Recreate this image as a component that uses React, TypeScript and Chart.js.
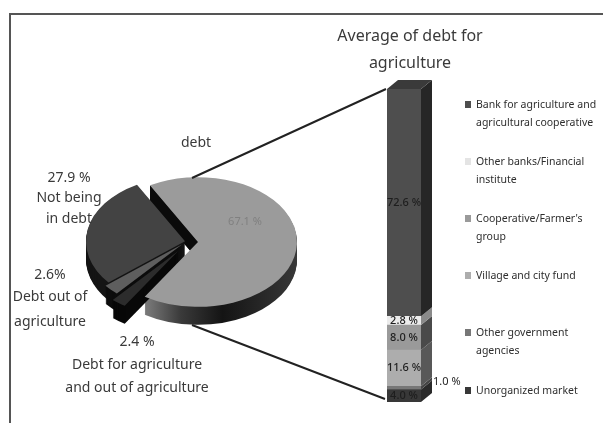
import React, { useEffect, useRef } from "react";
import { Chart, registerables, ArcElement } from "chart.js";

Chart.register(...registerables);

// ---- data ----
const pieLabels = ["debt", "Debt for agriculture and out of agriculture", "Debt out of agriculture", "Not being in debt"];
const pieValues = [67.1, 2.4, 2.6, 27.9];
const barSeries = [
  "Bank for agriculture and agricultural cooperative",
  "Other banks/Financial institute",
  "Cooperative/Farmer's group",
  "Village and city fund",
  "Other government agencies",
  "Unorganized market",
];
const barValues = [72.6, 2.8, 8.0, 11.6, 1.0, 4.0];
const barCategory = ["Average of debt for agriculture"];

// ---- styles ----
const FONT = '"Noto Sans"';
const INK = "#3a3a3a";
const pieColors = ["#9b9b9b", "#2c2c2c", "#5e5e5e", "#434343"];
const pieWallColors = ["#1c1c1c", "#080808", "#0c0c0c", "#141414"];
const pieExplode = [[8, 0], [-12, 14], [-8, 4], [-5, -1]];
const PIE_SQUASH = 0.655;
const PIE_DEPTH = 18;
const barColors = ["#4e4e4e", "#ececec", "#9a9a9a", "#adadad", "#777777", "#383838"];
const barSideColors = ["#262626", "#8a8a8a", "#4a4a4a", "#585858", "#444444", "#2a2a2a"];
const BAR_DX = 11;
const BAR_DY = 9;

type T = [string, number, number];
const pieTexts: T[] = [
  ["debt", 196, 143],
  ["27.9 %", 69, 178],
  ["Not being", 69, 198],
  ["in debt", 69, 219],
  ["2.6%", 50, 275],
  ["Debt out of", 50, 297],
  ["agriculture", 50, 322],
  ["2.4 %", 137, 342],
  ["Debt for agriculture", 137, 365],
  ["and out of agriculture", 137, 388],
];
const titleLines: T[] = [
  ["Average of debt for", 410, 36],
  ["agriculture", 410, 63],
];
const legendLines: string[][] = [
  ["Bank for agriculture and", "agricultural cooperative"],
  ["Other banks/Financial", "institute"],
  ["Cooperative/Farmer's", "group"],
  ["Village and city fund"],
  ["Other government", "agencies"],
  ["Unorganized market"],
];
const legendY = [105, 162, 219, 276, 333, 391];

const piePlugin = {
  id: "pie3d",
  beforeDraw(chart: any) {
    const { ctx } = chart;
    ctx.save();
    ctx.fillStyle = "#ffffff";
    ctx.fillRect(0, 0, 603, 423);
    ctx.fillStyle = "#555555";
    ctx.fillRect(9, 13, 594, 2);
    ctx.fillRect(9, 13, 2, 410);
    ctx.restore();
  },
  beforeDatasetsDraw(chart: any) {
    const { ctx } = chart;
    const meta = chart.getDatasetMeta(0);
    const first = meta.data[0];
    const cx = first.x;
    const cy = first.y;
    ctx.save();
    ctx.translate(cx, cy);
    ctx.scale(1, PIE_SQUASH);
    ctx.translate(-cx, -cy);
    [0, 3, 2, 1].forEach((i) => {
      const el = meta.data[i];
      const [ex, ey] = pieExplode[i];
      let fill: any = pieWallColors[i];
      if (i === 0) {
        const g = ctx.createLinearGradient(148, 0, 297, 0);
        g.addColorStop(0, "#777777");
        g.addColorStop(0.22, "#3a3a3a");
        g.addColorStop(0.5, "#141414");
        g.addColorStop(1, "#383838");
        fill = g;
      }
      ctx.fillStyle = fill;
      for (let d = PIE_DEPTH; d >= 1; d--) {
        const y = el.y + ey + d / PIE_SQUASH;
        ctx.beginPath();
        ctx.moveTo(el.x + ex, y);
        ctx.arc(el.x + ex, y, el.outerRadius, el.startAngle, el.endAngle);
        ctx.closePath();
        ctx.fill();
      }
      if (i === 0) {
        // the cut face of the large slice, seen through the gap
        const x0 = el.x + ex;
        const y0 = el.y + ey;
        const x1 = x0 + Math.cos(el.startAngle) * el.outerRadius;
        const y1 = y0 + Math.sin(el.startAngle) * el.outerRadius;
        const h = PIE_DEPTH / PIE_SQUASH;
        ctx.fillStyle = "#0a0a0a";
        ctx.beginPath();
        ctx.moveTo(x0, y0);
        ctx.lineTo(x1, y1);
        ctx.lineTo(x1, y1 + h);
        ctx.lineTo(x0, y0 + h);
        ctx.closePath();
        ctx.fill();
      }
    });
    meta.data.forEach((el: any, i: number) => {
      if (el.__wrapped) return;
      el.__wrapped = true;
      el.draw = function (c: any, area: any) {
        const [ex, ey] = pieExplode[i];
        c.save();
        c.translate(ex, ey);
        ArcElement.prototype.draw.call(this, c, area);
        c.restore();
      };
    });
  },
  afterDatasetsDraw(chart: any) {
    const { ctx } = chart;
    ctx.restore();
    ctx.save();
    ctx.strokeStyle = "#222222";
    ctx.lineWidth = 2;
    ctx.beginPath();
    ctx.moveTo(192, 178);
    ctx.lineTo(386, 89);
    ctx.moveTo(192, 325);
    ctx.lineTo(385, 399);
    ctx.stroke();
    ctx.textAlign = "center";
    ctx.textBaseline = "middle";
    ctx.fillStyle = INK;
    ctx.font = `14px ${FONT}`;
    pieTexts.forEach(([s, x, y]) => ctx.fillText(s, x, y));
    ctx.fillStyle = "#808080";
    ctx.font = `11px ${FONT}`;
    ctx.fillText(`${pieValues[0].toFixed(1)} %`, 245, 222);
    ctx.restore();
  },
};

const barPlugin = {
  id: "bar3d",
  beforeDatasetsDraw(chart: any) {
    const { ctx } = chart;
    ctx.save();
    const metas = chart.getSortedVisibleDatasetMetas();
    metas.forEach((meta: any) => {
      const i = barColors.length - 1 - meta.index;
      const el = meta.data[0];
      const right = el.x + el.width / 2;
      ctx.fillStyle = barSideColors[i];
      ctx.beginPath();
      ctx.moveTo(right, el.y);
      ctx.lineTo(right + BAR_DX, el.y - BAR_DY);
      ctx.lineTo(right + BAR_DX, el.base - BAR_DY);
      ctx.lineTo(right, el.base);
      ctx.closePath();
      ctx.fill();
      if (i === 0) {
        const left = el.x - el.width / 2;
        ctx.fillStyle = "#3a3a3a";
        ctx.beginPath();
        ctx.moveTo(left, el.y);
        ctx.lineTo(left + BAR_DX, el.y - BAR_DY);
        ctx.lineTo(right + BAR_DX, el.y - BAR_DY);
        ctx.lineTo(right, el.y);
        ctx.closePath();
        ctx.fill();
      }
    });
    ctx.restore();
  },
  afterDatasetsDraw(chart: any) {
    const { ctx } = chart;
    ctx.save();
    ctx.textBaseline = "middle";
    ctx.textAlign = "center";
    ctx.fillStyle = INK;
    ctx.font = `16px ${FONT}`;
    titleLines.forEach(([s, x, y]) => ctx.fillText(s, x, y));

    ctx.fillStyle = "#1e1e1e";
    const metas = chart.getSortedVisibleDatasetMetas();
    metas.forEach((meta: any) => {
      const i = barColors.length - 1 - meta.index;
      const el = meta.data[0];
      const text = `${barValues[i].toFixed(1)} %`;
      if (barValues[i] < 2) {
        ctx.font = `11px ${FONT}`;
        ctx.textAlign = "left";
        ctx.fillText(text, 433, 382);
      } else {
        ctx.font = `500 11px ${FONT}`;
        ctx.textAlign = "center";
        ctx.fillText(text, el.x, (el.y + el.base) / 2);
      }
    });

    ctx.textAlign = "left";
    ctx.font = `10.5px ${FONT}`;
    legendLines.forEach((lines, i) => {
      ctx.fillStyle = barColors[i] === "#ececec" ? "#e4e4e4" : barColors[i];
      ctx.fillRect(465, legendY[i] - 4, 6, 7);
      ctx.fillStyle = "#2e2e2e";
      lines.forEach((s, k) => ctx.fillText(s, 476, legendY[i] + k * 18.5));
    });
    ctx.restore();
  },
};

export default function App() {
  const pieRef = useRef<HTMLCanvasElement>(null);
  const barRef = useRef<HTMLCanvasElement>(null);
  useEffect(() => {
    document.body.style.margin = "0";
    const pie = new Chart(pieRef.current!, {
      type: "pie",
      data: {
        labels: pieLabels,
        datasets: [{ data: pieValues, backgroundColor: pieColors, borderWidth: 0, clip: false } as any],
      },
      options: {
        animation: false,
        responsive: false,
        rotation: -29,
        layout: { padding: { left: 91, right: 314, top: 143, bottom: 82 } },
        plugins: { legend: { display: false }, tooltip: { enabled: false } },
      },
      plugins: [piePlugin],
    } as any);
    const order = barValues.map((_, i) => barValues.length - 1 - i);
    const bar = new Chart(barRef.current!, {
      type: "bar",
      data: {
        labels: barCategory,
        datasets: order.map((i) => ({
          label: barSeries[i],
          data: [barValues[i]],
          backgroundColor: barColors[i],
          borderWidth: 0,
          barPercentage: 1,
          categoryPercentage: 1,
        })),
      },
      options: {
        animation: false,
        responsive: false,
        layout: { padding: { left: 387, right: 182, top: 89, bottom: 21 } },
        scales: {
          x: { display: false, stacked: true },
          y: { display: false, stacked: true, min: 0, max: 100 },
        },
        plugins: { legend: { display: false }, tooltip: { enabled: false } },
      },
      plugins: [barPlugin],
    } as any);
    return () => {
      pie.destroy();
      bar.destroy();
    };
  }, []);
  const abs: React.CSSProperties = { position: "absolute", left: 0, top: 0, width: 603, height: 423 };
  return (
    <div style={{ ...abs, overflow: "hidden", background: "#fff", filter: "blur(0.4px)" }}>
      <canvas ref={pieRef} width={603} height={423} style={abs} />
      <canvas ref={barRef} width={603} height={423} style={abs} />
    </div>
  );
}
